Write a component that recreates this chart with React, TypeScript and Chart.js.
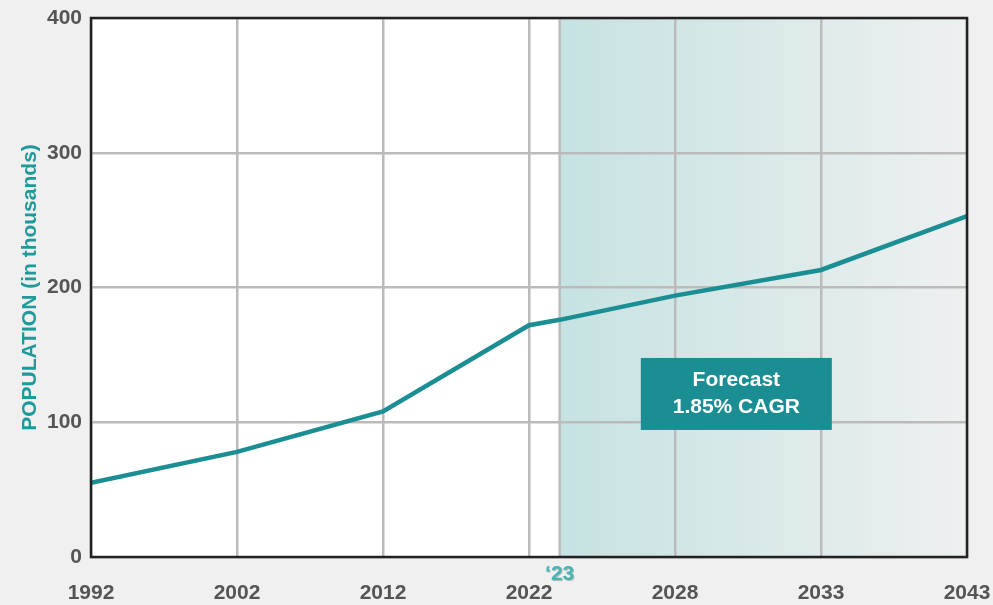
import React, { useEffect, useRef } from "react";
import { Chart, registerables } from "chart.js";

Chart.register(...registerables);

// Category labels shown on the x axis (equally spaced positions 0..6)
const xLabels = ["1992", "2002", "2012", "2022", "2028", "2033", "2043"];
// Point positions on the x axis (index units) and population values (thousands)
const pointPositions = [0, 1, 2, 3, 3.21, 4, 5, 6];
const populationValues = [55, 78, 108, 172, 176, 194, 213, 253];
// Forecast start marker ('23) position and label
const forecastStart = 3.21;
const forecastMarkerLabel = "\u201823";
const forecastText = ["Forecast", "1.85% CAGR"];
const yTicks = [0, 100, 200, 300, 400];

const FONT = "'Liberation Sans', Arial, Helvetica, sans-serif";
const TEAL = "#1a8e92";

export default function App() {
  const ref = useRef<HTMLCanvasElement | null>(null);

  useEffect(() => {
    if (!ref.current) return;

    const bgPlugin = {
      id: "bgPlugin",
      beforeDraw(chart: any) {
        const { ctx, chartArea: a, scales } = chart;
        ctx.save();
        ctx.fillStyle = "#f0f0f0";
        ctx.fillRect(0, 0, chart.width, chart.height);
        ctx.fillStyle = "#ffffff";
        ctx.fillRect(a.left, a.top, a.right - a.left, a.bottom - a.top);
        const xs = scales.x.getPixelForValue(forecastStart);
        const g = ctx.createLinearGradient(xs, 0, a.right, 0);
        g.addColorStop(0, "#c6e2e2");
        g.addColorStop(1, "#eef0f0");
        ctx.fillStyle = g;
        ctx.fillRect(xs, a.top, a.right - xs, a.bottom - a.top);
        ctx.restore();
      },
      beforeDatasetsDraw(chart: any) {
        const { ctx, chartArea: a, scales } = chart;
        const xs = scales.x.getPixelForValue(forecastStart);
        ctx.save();
        ctx.strokeStyle = "#bbbbbb";
        ctx.lineWidth = 2.5;
        ctx.beginPath();
        ctx.moveTo(xs, a.top);
        ctx.lineTo(xs, a.bottom);
        ctx.stroke();

        // forecast box
        const xc = scales.x.getPixelForValue(4.42);
        const yc = scales.y.getPixelForValue(121);
        const w = 191;
        const h = 72;
        const x0 = xc - w / 2;
        ctx.fillStyle = TEAL;
        ctx.fillRect(x0, yc - h / 2, w, h);
        ctx.fillStyle = "#ffffff";
        ctx.font = `bold 21px ${FONT}`;
        ctx.textAlign = "center";
        ctx.textBaseline = "middle";
        ctx.fillText(forecastText[0], xc, yc - 14);
        ctx.fillText(forecastText[1], xc, yc + 13);
        ctx.restore();
      },
      afterDatasetsDraw(chart: any) {
        const { ctx, chartArea: a } = chart;
        ctx.save();
        ctx.strokeStyle = "#222222";
        ctx.lineWidth = 2.5;
        ctx.strokeRect(a.left, a.top, a.right - a.left, a.bottom - a.top);
        ctx.restore();
      },
      afterDraw(chart: any) {
        const { ctx, chartArea: a, scales } = chart;
        const xs = scales.x.getPixelForValue(forecastStart);
        ctx.save();
        ctx.font = `bold 21px ${FONT}`;
        ctx.textAlign = "center";
        ctx.textBaseline = "middle";
        ctx.fillStyle = "rgba(0,0,0,0.25)";
        ctx.fillText(forecastMarkerLabel, xs + 1, a.bottom + 18);
        ctx.fillStyle = "#45b5b5";
        ctx.fillText(forecastMarkerLabel, xs, a.bottom + 17);
        ctx.restore();
      },
    };

    const chart = new Chart(ref.current, {
      type: "line",
      data: {
        datasets: [
          {
            data: pointPositions.map((p, i) => ({ x: p, y: populationValues[i] })),
            borderColor: TEAL,
            borderWidth: 4.5,
            pointRadius: 0,
            tension: 0,
            fill: false,
          },
        ],
      },
      options: {
        responsive: false,
        animation: false,
        layout: { padding: { top: 18, right: 26, left: 0, bottom: 0 } },
        plugins: { legend: { display: false }, tooltip: { enabled: false } },
        scales: {
          x: {
            type: "linear",
            min: 0,
            max: xLabels.length - 1,
            afterFit(s: any) {
              s.height = 48;
              s.paddingLeft = 0;
              s.paddingRight = 0;
            },
            afterBuildTicks(s: any) {
              s.ticks = xLabels.map((_, i) => ({ value: i }));
            },
            ticks: {
              autoSkip: false,
              maxRotation: 0,
              padding: 24,
              color: "#555555",
              font: { family: FONT, size: 21, weight: "bold" },
              callback: (v: any) => xLabels[v] ?? "",
            },
            grid: { color: "#bbbbbb", lineWidth: 2.5, drawTicks: false },
            border: { display: false },
          },
          y: {
            min: 0,
            max: 400,
            afterFit(s: any) {
              s.width = 91;
              s.paddingTop = 0;
              s.paddingBottom = 0;
            },
            afterBuildTicks(s: any) {
              s.ticks = yTicks.map((v) => ({ value: v }));
            },
            ticks: {
              padding: 9,
              color: "#555555",
              font: { family: FONT, size: 21, weight: "bold" },
            },
            grid: { color: "#bbbbbb", lineWidth: 2.5, drawTicks: false },
            border: { display: false },
            title: {
              display: true,
              text: "POPULATION (in thousands)",
              color: "#1f9a9a",
              font: { family: FONT, size: 21, weight: "bold" },
              padding: { top: 18, bottom: 0 },
            },
          },
        },
      },
      plugins: [bgPlugin],
    });

    return () => chart.destroy();
  }, []);

  return (
    <div
      style={{
        position: "fixed",
        left: 0,
        top: 0,
        width: 993,
        height: 605,
        background: "#f0f0f0",
      }}
    >
      <canvas ref={ref} width={993} height={605} style={{ display: "block" }} />
    </div>
  );
}
